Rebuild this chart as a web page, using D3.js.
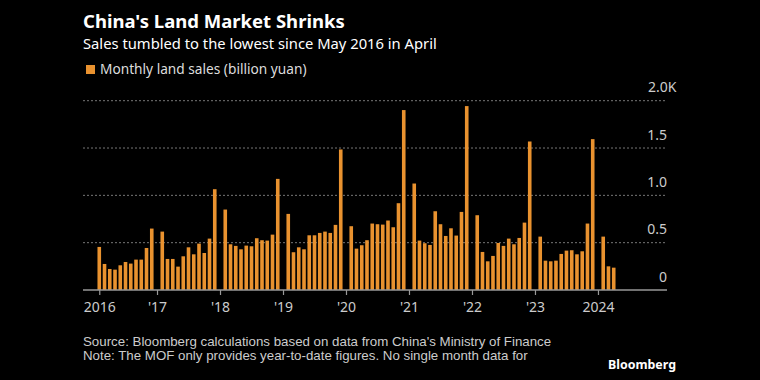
<!DOCTYPE html>
<html>
<head>
<meta charset="utf-8">
<script src="https://cdn.jsdelivr.net/npm/d3@7"></script>
<style>
  html, body { margin: 0; padding: 0; background: #000; }
  svg { display: block; }
</style>
</head>
<body>
<div id="wrapper"></div>
<script>
// monthly land sales, billion yuan, Feb..Dec (no January figure from the MOF)
const sales2016 = [455, 275, 222, 215, 261, 296, 279, 321, 321, 444, 649]
const sales2017 = [617, 328, 328, 247, 356, 451, 377, 490, 391, 543, 1065]
const sales2018 = [850, 483, 466, 430, 469, 462, 547, 526, 522, 585, 1174]
const sales2019 = [804, 399, 451, 430, 578, 578, 603, 617, 603, 688, 1485]
const sales2020 = [674, 437, 473, 526, 702, 695, 691, 734, 663, 917, 1901]
const sales2021 = [1125, 522, 494, 476, 832, 695, 571, 652, 575, 825, 1943]
const sales2022 = [790, 402, 303, 360, 497, 466, 543, 483, 550, 712, 1569]
const sales2023 = [564, 310, 303, 310, 381, 416, 420, 377, 409, 702, 1594]
const sales2024 = [564, 250, 236]

const years = [2016, 2017, 2018, 2019, 2020, 2021, 2022, 2023, 2024]
const tickLabels = ["2016", "'17", "'18", "'19", "'20", "'21", "'22", "'23", "2024"]
const yTicks = [0, 500, 1000, 1500, 2000]
const yTickLabels = ["0", "0.5", "1.0", "1.5", "2.0"]

const bySeries = [sales2016, sales2017, sales2018, sales2019, sales2020, sales2021, sales2022, sales2023, sales2024]

// month index: Jan 2016 = 0
const data = []
bySeries.forEach((arr, i) => {
    arr.forEach((v, j) => {
        data.push({ m: i * 12 + j + 1, value: v })
    })
})
// ticks: first tick at start of data, then each January
const tickMonths = years.map((y, i) => i === 0 ? 1 : i * 12)

const width = 760
const height = 380
const plot = { left: 83, right: 667, top: 100.7, bottom: 290 }
const barColor = "#e9922f"
const font = "'Noto Sans', 'DejaVu Sans', sans-serif"
const narrow = "'Liberation Sans Narrow', 'Liberation Sans', sans-serif"

const svg = d3.select("#wrapper").append("svg")
    .attr("width", width)
    .attr("height", height)
    .style("background", "#000")

const x = d3.scaleLinear().domain([-2.1, 109.15]).range([plot.left, plot.right])
const y = d3.scaleLinear().domain([0, 2000]).range([plot.bottom, plot.top])
const barW = 3.6

// titles
svg.append("text")
    .attr("x", 83).attr("y", 27.8)
    .text("China's Land Market Shrinks")
    .style("fill", "#fff").style("font-family", font)
    .style("font-weight", "bold").style("font-size", "18.5px")

svg.append("text")
    .attr("x", 83).attr("y", 48.8)
    .text("Sales tumbled to the lowest since May 2016 in April")
    .style("fill", "#fff").style("font-family", font)
    .style("font-size", "14.75px")

// legend
svg.append("rect")
    .attr("x", 86).attr("y", 65).attr("width", 9).attr("height", 9)
    .attr("fill", barColor)
svg.append("text")
    .attr("x", 100).attr("y", 74)
    .text("Monthly land sales (billion yuan)")
    .style("fill", "#ddd").style("font-family", font)
    .style("font-size", "13.7px")

// grid lines
svg.append("g").selectAll("line")
    .data(yTicks.filter(d => d > 0))
    .enter().append("line")
    .attr("x1", plot.left).attr("x2", plot.right - 1)
    .attr("y1", d => y(d)).attr("y2", d => y(d))
    .attr("stroke", "#777").attr("stroke-width", 1)
    .attr("stroke-dasharray", "2,2")

// y labels
const yLab = svg.append("g").selectAll("text")
    .data(yTicks)
    .enter().append("text")
    .attr("x", plot.right)
    .attr("y", d => y(d) - 8.5)
    .attr("text-anchor", "end")
    .style("fill", "#ccc").style("font-family", font)
    .style("font-size", "14px")
    .text((d, i) => yTickLabels[i])
yLab.filter(d => d === 2000).append("tspan").text("K")
yLab.filter(d => d === 2000).attr("text-anchor", "start").attr("x", plot.right - 19)

// bars
svg.append("g").selectAll("rect")
    .data(data)
    .enter().append("rect")
    .attr("x", d => x(d.m) - barW / 2)
    .attr("width", barW)
    .attr("y", d => y(d.value))
    .attr("height", d => y(0) - y(d.value))
    .attr("fill", barColor)

// x axis
const xAxis = d3.axisBottom(x)
    .tickValues(tickMonths)
    .tickFormat((d, i) => tickLabels[i])
    .tickSize(5)
    .tickPadding(7)

const gx = svg.append("g")
    .attr("transform", `translate(0,${plot.bottom})`)
    .call(xAxis)
gx.select(".domain").attr("stroke", "#999").attr("stroke-width", 1.5)
    .attr("d", `M${plot.left},0H${plot.right}`)
gx.selectAll(".tick line").attr("stroke", "#999").attr("stroke-width", 1.2)
gx.selectAll(".tick text")
    .style("fill", "#ccc").style("font-family", font)
    .style("font-size", "14px")

// footer
svg.append("text")
    .attr("x", 83).attr("y", 346)
    .text("Source: Bloomberg calculations based on data from China's Ministry of Finance")
    .style("fill", "#ccc").style("font-family", narrow)
    .style("font-size", "13.3px")
svg.append("text")
    .attr("x", 83).attr("y", 360)
    .text("Note: The MOF only provides year-to-date figures. No single month data for")
    .style("fill", "#ccc").style("font-family", narrow)
    .style("font-size", "13.3px")
svg.append("text")
    .attr("x", 608).attr("y", 369)
    .text("Bloomberg")
    .style("fill", "#fff").style("font-family", font)
    .style("font-weight", "bold").style("font-size", "12.4px")
</script>
</body>
</html>
